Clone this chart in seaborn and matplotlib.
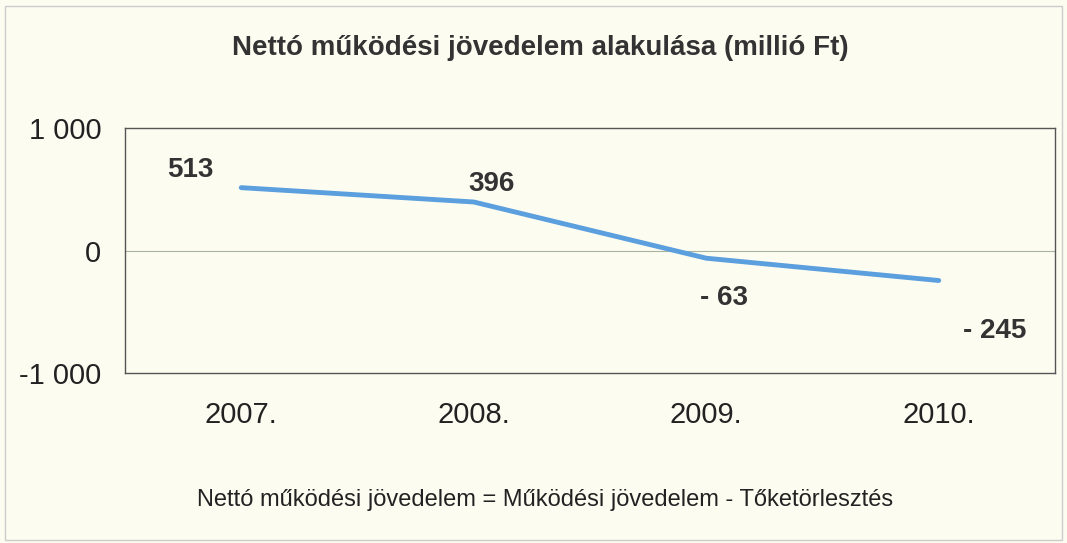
import matplotlib
matplotlib.use("Agg")
import matplotlib.pyplot as plt
import seaborn as sns
import pandas as pd
from matplotlib.patches import Rectangle

years = ["2007.", "2008.", "2009.", "2010."]
values = [513, 396, -63, -245]
value_labels = ["513", "396", "- 63", "- 245"]
yticks = [-1000, 0, 1000]
ytick_labels = ["-1 000", "0", "1 000"]
title = "Nettó működési jövedelem alakulása (millió Ft)"
footnote = "Nettó működési jövedelem = Működési jövedelem - Tőketörlesztés"

sns.set_style("white")
plt.rcParams['font.family'] = ['Liberation Sans', 'DejaVu Sans']

bg = "#FDFCF1"
fig = plt.figure(figsize=(10.67, 5.43), dpi=100, facecolor=bg)
ax = fig.add_axes([125/1067, 1-373/543, 930/1067, 245/543])
ax.set_facecolor(bg)

df = pd.DataFrame({"year": years, "value": values})
sns.lineplot(data=df, x="year", y="value", ax=ax, color="#5B9FDE",
             linewidth=3.5, solid_capstyle="round", sort=False)

ax.set_xlim(-0.5, 3.5)
ax.set_ylim(-1000, 1000)
ax.set_yticks(yticks)
ax.set_yticklabels(ytick_labels)
ax.set_xlabel("")
ax.set_ylabel("")
ax.axhline(0, color="#A9B3A0", linewidth=0.8, zorder=0)

ax.set_xticks([0, 1, 2, 3])
ax.set_xticklabels(years)
ax.set_xticks([0.5, 1.5, 2.5], minor=True)
ax.tick_params(axis="x", which="major", length=0, pad=20, labelsize=21, colors="#222222")
ax.tick_params(axis="x", which="minor", length=6, width=0.8, color="#888888", direction="out")
ax.tick_params(axis="y", length=5, width=0.8, color="#888888", direction="out",
               labelsize=21, labelcolor="#222222", pad=12)

for s in ax.spines.values():
    s.set_color("#555555")
    s.set_linewidth(1.0)

offsets = [(-37, 13), (13, 13), (13, -29), (40, -36)]
for i, (v, lab, off) in enumerate(zip(values, value_labels, offsets)):
    ax.annotate(lab, xy=(i, v), xytext=off, textcoords="offset points",
                ha="center", va="center", fontsize=20, fontweight="bold",
                color="#333333")

fig.text(540/1067, 1-48/543, title, ha="center", va="center",
         fontsize=20, fontweight="bold", color="#333333")
fig.text(545/1067, 1-500/543, footnote, ha="center", va="center",
         fontsize=17, color="#222222")

fig.patches.append(Rectangle((5/1067, 3/543), 1-10/1067, 1-9/543,
                             transform=fig.transFigure, fill=False,
                             edgecolor="#CCCCCC", linewidth=1.0))

fig.savefig("out.png", dpi=100, facecolor=bg)
